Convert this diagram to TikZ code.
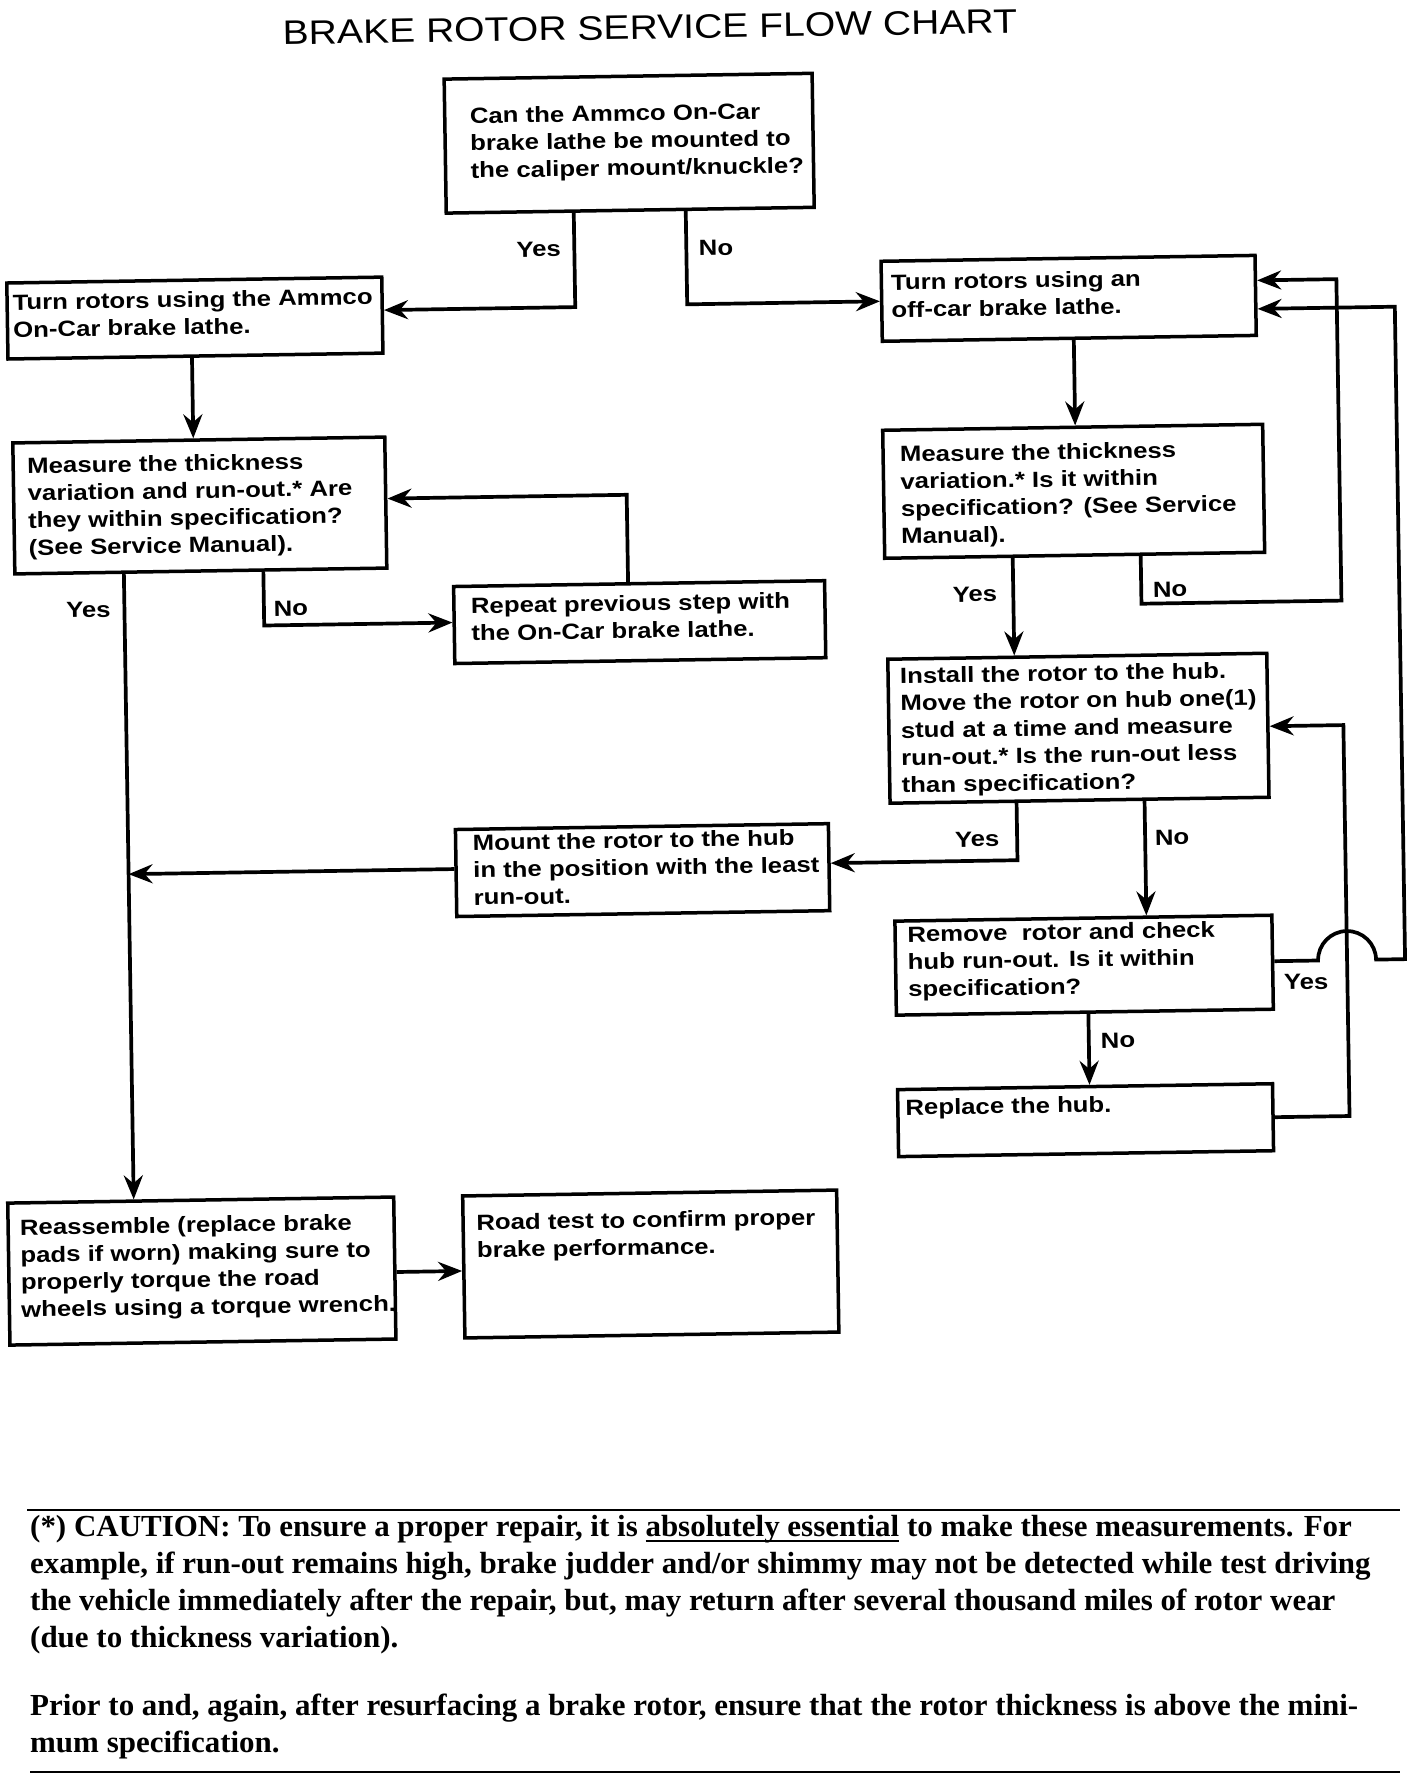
\documentclass[tikz,border=0pt]{standalone}
\usepackage{fontspec}
\newfontfamily\boxfont[FakeStretch=1.17]{Liberation Sans}
\newfontfamily\titlefont[FakeStretch=1.15]{Liberation Sans}
\newfontfamily\cautfont[FakeStretch=1.012]{Liberation Serif}
\usetikzlibrary{arrows.meta}
\newcommand\myfl{\rule{0pt}{17pt}}
\newcommand\mycfl{\rule{0pt}{21pt}}
\newcommand\myul[1]{\leavevmode\vtop{\hbox{\smash{#1}\vphantom{x}}\kern3.5pt\hrule height 2pt}}
\begin{document}
\begin{tikzpicture}[x=1pt,y=-1pt,
  box/.style={draw, line width=3.5pt, rectangle, inner sep=0pt},
  txt/.style={inner sep=0pt, align=left, anchor=north west, font=\boxfont\bfseries\fontsize{22}{27.3}\selectfont},
  lbl/.style={inner sep=0pt, anchor=base, font=\boxfont\bfseries\fontsize{22}{27.3}\selectfont},
  ttl/.style={inner sep=0pt, anchor=base, font=\titlefont\fontsize{34}{40}\selectfont},
  caut/.style={inner sep=0pt, align=left, anchor=north west, font=\cautfont\bfseries\fontsize{30.6}{37}\selectfont},
  arr/.style={draw, line width=3.7pt, -{Stealth[length=24pt,width=19pt,inset=8pt]}},
  rulel/.style={draw, line width=2.6pt}]
\useasboundingbox (0,0) rectangle (1424,1792);
\fill[white] (0,0) rectangle (1424,1792);
\begin{scope}[transform canvas={rotate around={0.9:(712,896)}}]
% title
\node[ttl] (title) at (663.5,38) {BRAKE ROTOR SERVICE FLOW CHART};
% boxes
\node[box, minimum width=368pt, minimum height=134pt] (q1) at (641,142) {};
\node[box, minimum width=375pt, minimum height=76pt] (a1) at (204,310) {};
\node[box, minimum width=374pt, minimum height=80pt] (b1) at (1078,304) {};
\node[box, minimum width=372pt, minimum height=131pt] (a2) at (206,497.5) {};
\node[box, minimum width=371pt, minimum height=77pt] (a3) at (644,621) {};
\node[box, minimum width=380pt, minimum height=128pt] (b2) at (1080,497) {};
\node[box, minimum width=379pt, minimum height=144pt] (b3) at (1081,734) {};
\node[box, minimum width=373pt, minimum height=87pt] (a4) at (643,869) {};
\node[box, minimum width=377pt, minimum height=94pt] (b4) at (1083,971) {};
\node[box, minimum width=375pt, minimum height=67pt] (b5) at (1082,1126) {};
\node[box, minimum width=386pt, minimum height=142pt] (a5) at (196,1263) {};
\node[box, minimum width=374pt, minimum height=142pt] (a6) at (645,1263) {};
% box texts
\node[txt] (q1t) at (482,102.5) {\myfl Can the Ammco On-Car\\brake lathe be mounted to\\the caliper mount/knuckle?};
\node[txt] (a1t) at (22,282) {\myfl Turn rotors using the Ammco\\On-Car brake lathe.};
\node[txt] (b1t) at (900.5,275.8) {\myfl Turn rotors using an\\off-car brake lathe.};
\node[txt] (a2t) at (34,445.6) {\myfl Measure the thickness\\variation and run-out.* Are\\they within specification?\\(See Service Manual).};
\node[txt] (a3t) at (475.4,592.5) {\myfl Repeat previous step with\\the On-Car brake lathe.};
\node[txt] (b2t) at (906.8,447.7) {\myfl Measure the thickness\\variation.* Is it within\\specification? (See Service\\Manual).};
\node[txt] (b3t) at (903.3,669.3) {\myfl Install the rotor to the hub.\\Move the rotor on hub one(1)\\stud at a time and measure\\run-out.* Is the run-out less\\than specification?};
\node[txt] (a4t) at (473.5,829.5) {\myfl Mount the rotor to the hub\\in the position with the least\\run-out.};
\node[txt] (b4t) at (906.6,928) {\myfl Remove\ \ rotor and check\\hub run-out. Is it within\\specification?};
\node[txt] (b5t) at (902,1101) {\myfl Replace the hub.};
\node[txt] (a5t) at (14.7,1207.1) {\myfl Reassemble (replace brake\\pads if worn) making sure to\\properly torque the road\\wheels using a torque wrench.};
\node[txt] (a6t) at (471.2,1209.3) {\myfl Road test to confirm proper\\brake performance.};
% guide coordinates
\coordinate (xQyes) at (584.5,0);
\coordinate (xQno) at (696.5,0);
\coordinate (yQyes) at (0,305);
\coordinate (yQno) at (0,304);
\coordinate (xA1) at (200.5,0);
\coordinate (xA2yes) at (129,0);
\coordinate (xA2no) at (268.5,0);
\coordinate (yA2no) at (0,618.5);
\coordinate (xA3) at (633,0);
\coordinate (yA3) at (0,493.5);
\coordinate (xB1) at (1082.5,0);
\coordinate (xByes) at (1018,0);
\coordinate (xBno) at (1146,0);
\coordinate (xInner) at (1346,0);
\coordinate (xOuter) at (1404,0);
\coordinate (yB2no) at (0,610.5);
\coordinate (yB1a) at (0,289);
\coordinate (yB1b) at (0,317.5);
\coordinate (yB3yes) at (0,865);
\coordinate (yB4yes) at (0,970);
\coordinate (yB5) at (0,1126);
\coordinate (yB3in) at (0,735);
\coordinate (xB4) at (1086.5,0);
\coordinate (yA5) at (0,1267);
\coordinate (join) at (129,865);
\coordinate (hopL) at (1317,970);
\coordinate (hopT) at (1346,941);
\coordinate (hopR) at (1375,970);
% connectors
\draw[arr] (q1.south -| xQyes) |- (a1.east |- yQyes);
\draw[arr] (q1.south -| xQno) |- (b1.west |- yQno);
\draw[arr] (a1.south -| xA1) -- (a2.north -| xA1);
\draw[arr] (a2.south -| xA2yes) -- (a5.north -| xA2yes);
\draw[arr] (a2.south -| xA2no) |- (a3.west |- yA2no);
\draw[arr] (a3.north -| xA3) |- (a2.east |- yA3);
\draw[arr] (b1.south -| xB1) -- (b2.north -| xB1);
\draw[arr] (b2.south -| xByes) -- (b3.north -| xByes);
\draw[arr] (b2.south -| xBno) |- (xInner |- yB2no) |- (b1.east |- yB1a);
\draw[arr] (b3.south -| xByes) |- (a4.east |- yB3yes);
\draw[arr] (b3.south -| xBno) -- (b4.north -| xBno);
\draw[arr] (a4.west |- yB3yes) -- (join);
\draw[arr] (b4.east |- yB4yes) -- (hopL) .. controls +(0,-16) and +(-16,0) .. (hopT) .. controls +(16,0) and +(0,-16) .. (hopR) -- (xOuter |- yB4yes) -- (xOuter |- yB1b) -- (b1.east |- yB1b);
\draw[arr] (b4.south -| xB4) -- (b5.north -| xB4);
\draw[arr] (b5.east |- yB5) -| (xInner |- yB3in) -- (b3.east |- yB3in);
\draw[arr] (a5.east |- yA5) -- (a6.west |- yA5);
% labels
\node[lbl] (lq1y) at (548.8,254.1) {Yes};
\node[lbl] (lq1n) at (726.2,255.3) {No};
\node[lbl] (la2y) at (93,607.8) {Yes};
\node[lbl] (la2n) at (295.5,609.2) {No};
\node[lbl] (lb2y) at (979.7,605.9) {Yes};
\node[lbl] (lb2n) at (1174.8,604) {No};
\node[lbl] (lb3y) at (978,851) {Yes};
\node[lbl] (lb3n) at (1173,852) {No};
\node[lbl] (lb4y) at (1304.7,998.8) {Yes};
\node[lbl] (lb4n) at (1115.7,1054.2) {No};
\end{scope}
% caution
\draw[rulel] (27,1510) -- (1400,1510);
\node[caut] (c1) at (30,1515) {\mycfl (*) CAUTION: To ensure a proper repair, it is \myul{absolutely essential} to make these measurements. For\\example, if run-out remains high, brake judder and/or shimmy may not be detected while test driving\\the vehicle immediately after the repair, but, may return after several thousand miles of rotor wear\\(due to thickness variation).};
\node[caut] (c2) at (30,1694) {\mycfl Prior to and, again, after resurfacing a brake rotor, ensure that the rotor thickness is above the mini-\\mum specification.};
\draw[rulel] (30,1772) -- (1400,1772);
\end{tikzpicture}
\end{document}
